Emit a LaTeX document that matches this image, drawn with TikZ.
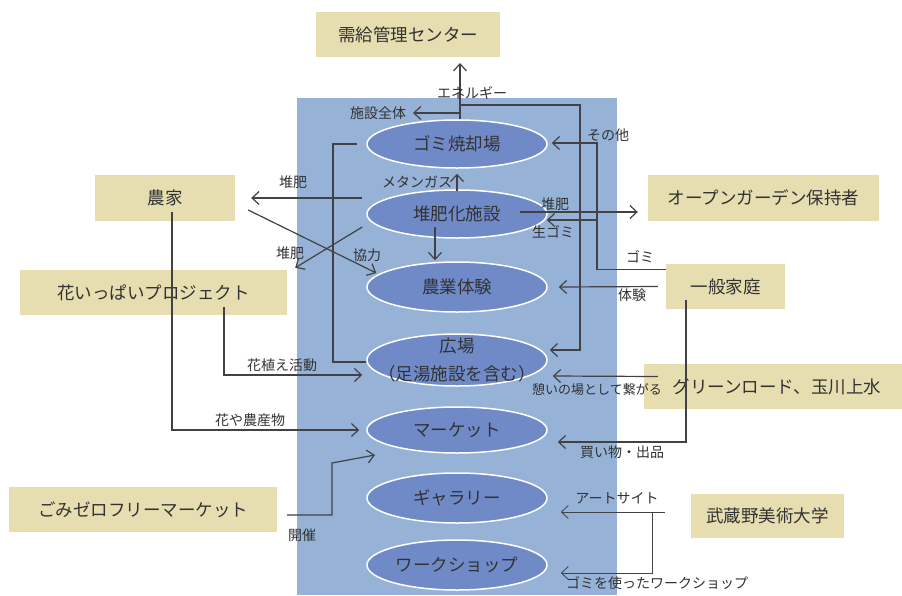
\documentclass[tikz,border=0pt]{standalone}
\usepackage{fontspec}
\newfontfamily\jp{Noto Sans CJK JP}
\usetikzlibrary{arrows.meta,shapes.geometric}
\definecolor{bgblue}{RGB}{150,179,215}
\definecolor{ellblue}{RGB}{112,138,200}
\definecolor{boxy}{RGB}{230,222,176}
\definecolor{ink}{RGB}{50,50,50}
\definecolor{linec}{RGB}{65,65,70}
\begin{document}
\begin{tikzpicture}[x=1pt,y=-1pt,
 every node/.style={font=\jp, text=ink},
 box/.style={fill=boxy, draw=none, minimum height=45pt, inner sep=0pt, font=\jp\fontsize{17.5}{20}\selectfont},
 ell/.style={ellipse, fill=ellblue, draw=white, line width=1.5pt, minimum width=180pt, minimum height=48pt, inner sep=0pt, font=\jp\fontsize{17.5}{20}\selectfont},
 lab/.style={font=\jp\fontsize{14}{16}\selectfont, inner sep=0pt},
 conn/.style={draw=linec, line width=1.2pt},
 arr/.style={conn, -{Straight Barb[length=7pt,width=13pt]}},
 thinarr/.style={draw=linec, line width=0.8pt, -{Straight Barb[length=7pt,width=13pt]}},
]
\fill[white] (0,0) rectangle (902,595);
\useasboundingbox (0,0) rectangle (902,595);
\fill[bgblue] (297,98) rectangle (617,595);

% boxes
\node[box, minimum width=184pt] (jukyu) at (408,34.5) {需給管理センター};
\node[box, minimum width=140pt, minimum height=46pt] (nouka) at (165,198) {農家};
\node[box, minimum width=267pt] (hana) at (153.5,292.5) {花いっぱいプロジェクト};
\node[box, minimum width=231pt, minimum height=46pt] (open) at (763.5,198) {オープンガーデン保持者};
\node[box, minimum width=119pt] (ippan) at (725.5,286.5) {一般家庭};
\node[box, minimum width=258pt, text width=258pt, align=center] (green) at (773,386.5) {\hspace*{8pt}グリーンロード、玉川上水};
\node[box, minimum width=268pt] (gomi0) at (143,509.5) {ごみゼロフリーマーケット};
\node[box, minimum width=153pt, minimum height=44pt] (musabi) at (767.5,516) {武蔵野美術大学};

% ellipses
\node[ell] (yaki) at (457,144) {ゴミ焼却場};
\node[ell] (taihi) at (457,214) {堆肥化施設};
\node[ell, minimum height=50pt] (nougyou) at (457,287) {農業体験};
\node[ell, minimum height=52pt] (hiroba) at (457,360) {};
\node[align=center, inner sep=0pt, font=\jp\fontsize{17.5}{28}\selectfont] (hirobatext) at (hiroba.center) {広場\\（足湯施設を含む）};
\node[ell, minimum height=46pt] (market) at (457,430) {マーケット};
\node[ell, minimum height=50pt] (gallery) at (457,498) {ギャラリー};
\node[ell, minimum height=50pt] (workshop) at (457,565) {ワークショップ};

% free ends / branch points
\coordinate (eup) at (460,63);
\coordinate (ej) at (460,105);
\coordinate (es) at (460,113);
\coordinate (sisetsu) at (413,113);
\coordinate (g1) at (597,220);
\coordinate (m1) at (652,512);

% energy
\draw[arr] ([xshift=3pt]yaki.north) -- (eup);
\draw[arr] (es) -- (sisetsu);
\draw[arr] (ej) -- (580,105) -- (580,350) -- ([shift={(2pt,10pt)}]hiroba.east);
% yaki - hiroba
\draw[conn] ([xshift=-9pt]yaki.west) -- (333,144) -- (333,362) -- ([yshift=-2pt]hiroba.west);
% methane
\draw[arr] ([yshift=-2pt]taihi.north) -- ([yshift=-5pt]yaki.south);
% taihi -> nougyou
\draw[arr] ([shift={(-22pt,-13pt)}]taihi.center) -- ([shift={(-22pt,1pt)}]nougyou.north);
% taihi -> open
\draw[arr] ([shift={(63pt,2pt)}]taihi.center) -- ([shift={(-10pt,-14pt)}]open.west);
% ippan -> yaki / taihi
\draw[arr] ([yshift=17pt]ippan.west) -- (597,269.5) -- (597,143) -- ([shift={(4pt,1pt)}]yaki.east);
\draw[arr] (g1) -- ([shift={(-1pt,-6pt)}]taihi.east);
% taiken
\draw[arr] ([xshift=-8pt]ippan.west) -- ([xshift=11pt]nougyou.east);
% kaimono
\draw[arr] ([shift={(-39.5pt,9pt)}]ippan.south) -- (686,442) -- ([shift={(10pt,-12pt)}]market.east);
% green road
\draw[arr] ([shift={(14pt,10pt)}]green.west) -- ([shift={(5pt,-16pt)}]hiroba.east);
% musabi
\draw[thinarr] ([shift={(-26pt,4pt)}]musabi.west) -- ([shift={(13pt,-14pt)}]gallery.east);
\draw[thinarr] (m1) -- (652,573) -- ([shift={(13pt,-8pt)}]workshop.east);
% gomi zero
\draw[arr] ([shift={(10pt,-5.5pt)}]gomi0.east) -- (332,515) -- (332,463) -- ([shift={(-82pt,-25pt)}]market.center);
% nouka -> market
\draw[arr] ([shift={(7pt,9pt)}]nouka.south) -- (172,430) -- ([xshift=-7pt]market.west);
% hana -> hiroba
\draw[arr] ([shift={(70.5pt,8pt)}]hana.south) -- (224,375) -- ([shift={(-4pt,-15pt)}]hiroba.west);
% taihi -> nouka
\draw[arr] ([shift={(-4pt,16pt)}]taihi.west) -- ([xshift=16pt]nouka.east);
% taihi -> hana
\draw[arr] ([shift={(-4pt,-13pt)}]taihi.west) -- ([shift={(8pt,2pt)}]hana.north east);
% kyouryoku
\draw[arr] ([shift={(13pt,-12pt)}]nouka.east) -- ([shift={(10pt,14pt)}]nougyou.west);

% labels
\node[lab] (l1) at (472,93) {エネルギー};
\node[lab] (l2) at (378,113) {施設全体};
\node[lab] (l3) at (608,135) {その他};
\node[lab] (l4) at (417,182) {メタンガス};
\node[lab] (l5) at (555,204) {堆肥};
\node[lab] (l6) at (553,232) {生ゴミ};
\node[lab] (l7) at (640,257) {ゴミ};
\node[lab] (l8) at (632,295) {体験};
\node[lab] (l9) at (293,182) {堆肥};
\node[lab] (l10) at (290,253) {堆肥};
\node[lab] (l11) at (367,255) {協力};
\node[lab] (l12) at (282,365) {花植え活動};
\node[lab, font=\jp\fontsize{13}{16}\selectfont] (l13) at (597,390) {憩いの場として繋がる};
\node[lab] (l14) at (250,420) {花や農産物};
\node[lab] (l15) at (622,452) {買い物・出品};
\node[lab] (l16) at (617,498) {アートサイト};
\node[lab] (l17) at (302,535) {開催};
\node[lab] (l18) at (657,583) {ゴミを使ったワークショップ};
\end{tikzpicture}
\end{document}
